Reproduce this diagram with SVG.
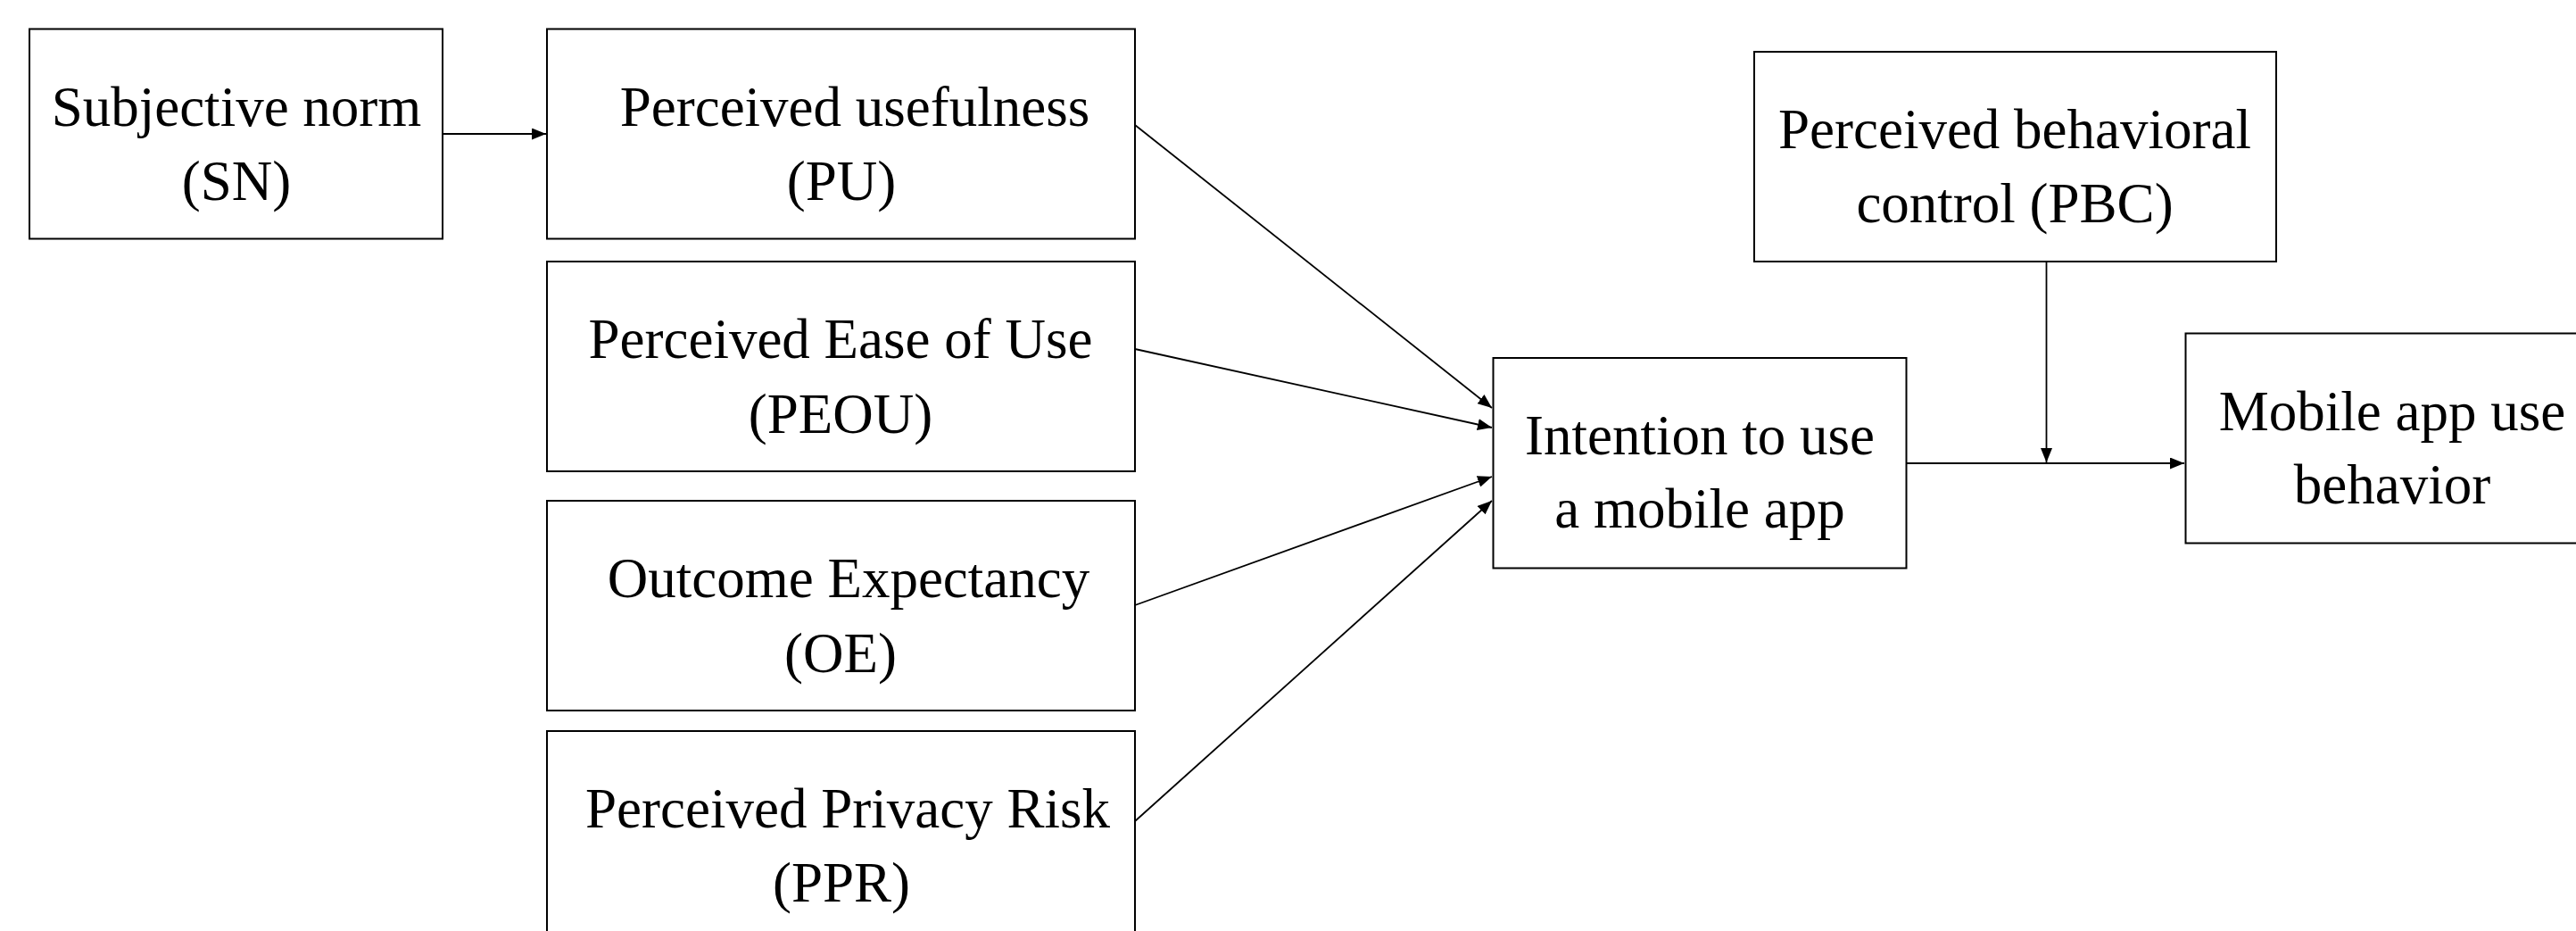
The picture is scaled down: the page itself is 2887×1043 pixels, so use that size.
<svg xmlns="http://www.w3.org/2000/svg" width="2887" height="1043" viewBox="0 0 2887 1043">
  <style>
    .box { fill: #ffffff; stroke: #000000; stroke-width: 2; }
    .lbl { font-family: "Liberation Serif", "Times New Roman", serif; font-size: 63px; fill: #000000; text-anchor: middle; }
    .edge { stroke: #000000; stroke-width: 1.8; fill: none; marker-end: url(#arrow); }
    .plain { stroke: #000000; stroke-width: 1.8; fill: none; }
  </style>
  <defs>
    <marker id="arrow" markerUnits="userSpaceOnUse" markerWidth="17" markerHeight="13" refX="16" refY="6.5" orient="auto">
      <path d="M0,0 L16,6.5 L0,13 Z" fill="#000000"/>
    </marker>
  </defs>
  <rect x="0" y="0" width="2887" height="1043" fill="#ffffff"/>

  <g id="connectors">
    <line class="edge" x1="496" y1="150" x2="612" y2="150"/>
    <line class="edge" x1="1272" y1="140" x2="1672" y2="457"/>
    <line class="edge" x1="1272" y1="391" x2="1672" y2="479"/>
    <line class="edge" x1="1272" y1="678" x2="1672" y2="534"/>
    <line class="edge" x1="1272" y1="920" x2="1672" y2="561"/>
    <line class="edge" x1="2137" y1="519" x2="2448" y2="519"/>
    <line class="edge" x1="2293.5" y1="293" x2="2293.5" y2="518"/>
  </g>

  <g id="node-sn">
    <rect class="box" x="33" y="32.5" width="463" height="235"/>
    <text class="lbl" x="265" y="141">Subjective norm</text>
    <text class="lbl" x="265" y="224">(SN)</text>
  </g>
  <g id="node-pu">
    <rect class="box" x="613" y="32.5" width="659" height="235"/>
    <text class="lbl" x="958" y="141">Perceived usefulness</text>
    <text class="lbl" x="943" y="224">(PU)</text>
  </g>
  <g id="node-peou">
    <rect class="box" x="613" y="293" width="659" height="235"/>
    <text class="lbl" x="942" y="401">Perceived Ease of Use</text>
    <text class="lbl" x="942" y="485">(PEOU)</text>
  </g>
  <g id="node-oe">
    <rect class="box" x="613" y="561" width="659" height="235"/>
    <text class="lbl" x="951" y="669">Outcome Expectancy</text>
    <text class="lbl" x="942" y="753">(OE)</text>
  </g>
  <g id="node-ppr">
    <rect class="box" x="613" y="819" width="659" height="235"/>
    <text class="lbl" x="950" y="927">Perceived Privacy Risk</text>
    <text class="lbl" x="943" y="1010">(PPR)</text>
  </g>
  <g id="node-intention">
    <rect class="box" x="1673.5" y="401" width="463" height="235.5"/>
    <text class="lbl" x="1905" y="509">Intention to use</text>
    <text class="lbl" x="1905" y="591">a mobile app</text>
  </g>
  <g id="node-pbc">
    <rect class="box" x="1966" y="58" width="585" height="235"/>
    <text class="lbl" x="2258" y="166">Perceived behavioral</text>
    <text class="lbl" x="2258" y="249">control (PBC)</text>
  </g>
  <g id="node-behavior">
    <rect class="box" x="2449.5" y="373.5" width="470" height="235"/>
    <text class="lbl" x="2681" y="482">Mobile app use</text>
    <text class="lbl" x="2681" y="564">behavior</text>
  </g>
</svg>
